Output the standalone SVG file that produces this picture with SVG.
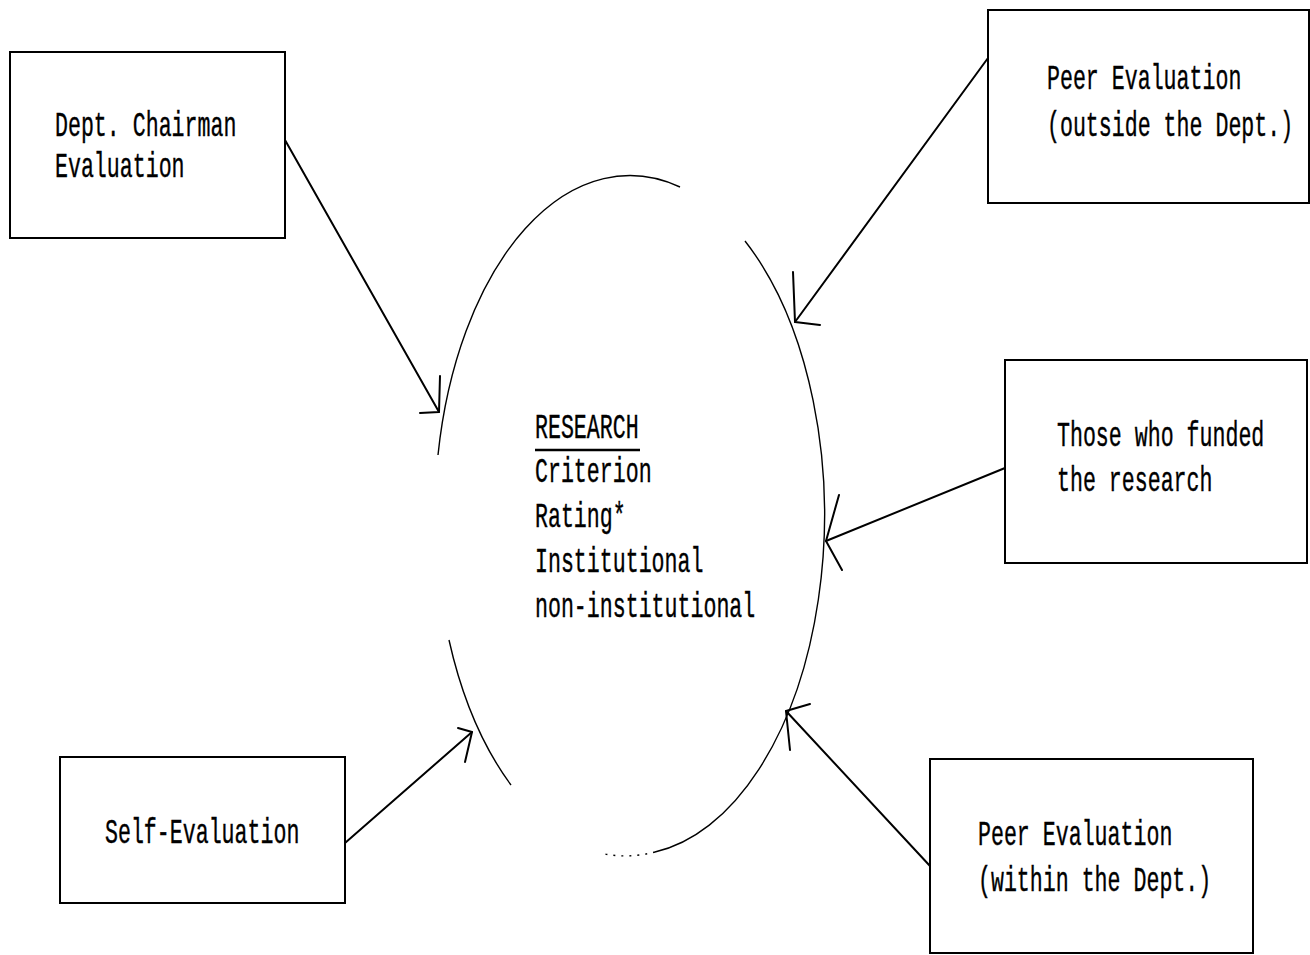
<svg xmlns="http://www.w3.org/2000/svg" width="1310" height="955" viewBox="0 0 1310 955">
<style>
.box{fill:none;stroke:#000;stroke-width:2}
.t{font-family:"Liberation Mono","DejaVu Sans Mono",monospace;font-size:36px;fill:#000;stroke:#000;stroke-width:0.4}
.ell{fill:none;stroke:#000;stroke-width:1.4}
.con{fill:none;stroke:#000;stroke-width:2;stroke-linecap:round;stroke-linejoin:round}
</style>
<rect width="1310" height="955" fill="#fff"/>
<g id="research">
<path class="ell" d="M438,455 A195,340 0 0 1 680,187"/>
<path class="ell" d="M745,241 A195,340 0 0 1 655,852"/>
<path class="ell" d="M449,640 A195,340 0 0 0 511,785"/>
<path class="ell" d="M655,852 A195,340 0 0 1 600,853" stroke-dasharray="2 6"/>
<text class="t" transform="translate(535,438) scale(0.6,1)">RESEARCH</text>
<line x1="535" y1="450" x2="640" y2="450" stroke="#000" stroke-width="2.5"/>
<text class="t" transform="translate(535,482) scale(0.6,1)">Criterion</text>
<text class="t" transform="translate(535,527) scale(0.6,1)">Rating*</text>
<text class="t" transform="translate(535,572) scale(0.6,1)">Institutional</text>
<text class="t" transform="translate(535,617) scale(0.6,1)">non-institutional</text>
</g>
<g id="dept-chairman">
<rect class="box" x="10" y="52" width="275" height="186"/>
<text class="t" transform="translate(55,136) scale(0.6,1)">Dept. Chairman</text>
<text class="t" transform="translate(55,177) scale(0.6,1)">Evaluation</text>
</g>
<g id="peer-outside">
<rect class="box" x="988" y="10" width="321" height="193"/>
<text class="t" transform="translate(1047,89) scale(0.6,1)">Peer Evaluation</text>
<text class="t" transform="translate(1047,136) scale(0.6,1)">(outside the Dept.)</text>
</g>
<g id="funders">
<rect class="box" x="1005" y="360" width="302" height="203"/>
<text class="t" transform="translate(1057,446) scale(0.6,1)">Those who funded</text>
<text class="t" transform="translate(1057,491) scale(0.6,1)">the research</text>
</g>
<g id="self-evaluation">
<rect class="box" x="60" y="757" width="285" height="146"/>
<text class="t" transform="translate(105,843) scale(0.6,1)">Self-Evaluation</text>
</g>
<g id="peer-within">
<rect class="box" x="930" y="759" width="323" height="194"/>
<text class="t" transform="translate(978,845) scale(0.6,1)">Peer Evaluation</text>
<text class="t" transform="translate(978,891) scale(0.6,1)">(within the Dept.)</text>
</g>
<g id="connectors">
<line class="con" x1="285" y1="140" x2="439" y2="412"/>
<polyline class="con" points="440,376 439,412 420,413"/>
<line class="con" x1="988" y1="58" x2="795" y2="322"/>
<polyline class="con" points="793,272 795,322 820,325"/>
<line class="con" x1="1005" y1="468" x2="826" y2="541"/>
<polyline class="con" points="839,495 826,541 842,570"/>
<line class="con" x1="345" y1="843" x2="472" y2="732"/>
<polyline class="con" points="458,728 472,732 465,762"/>
<line class="con" x1="930" y1="866" x2="786" y2="711"/>
<polyline class="con" points="810,704 786,711 790,750"/>
</g>
</svg>
